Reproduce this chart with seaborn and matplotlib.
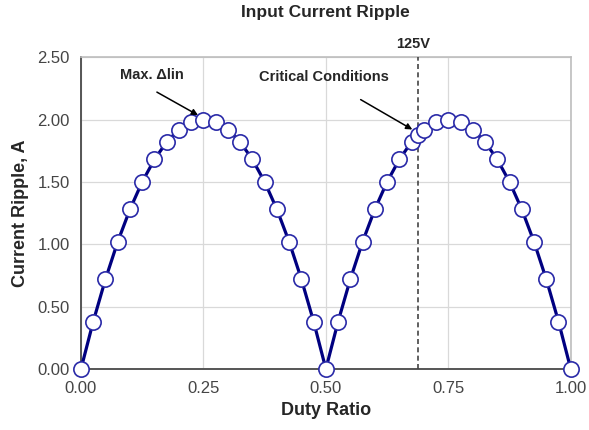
import matplotlib
matplotlib.use("Agg")
import matplotlib.pyplot as plt
import seaborn as sns
import pandas as pd

# Duty ratio sweep (extra point at the 125V critical duty ratio)
duty = [0.000, 0.025, 0.050, 0.075, 0.100, 0.125, 0.150, 0.175, 0.200, 0.225,
        0.250, 0.275, 0.300, 0.325, 0.350, 0.375, 0.400, 0.425, 0.450, 0.475,
        0.500, 0.525, 0.550, 0.575, 0.600, 0.625, 0.650, 0.675, 0.6875, 0.700,
        0.725, 0.750, 0.775, 0.800, 0.825, 0.850, 0.875, 0.900, 0.925, 0.950,
        0.975, 1.000]
ripple = [0.00, 0.38, 0.72, 1.02, 1.28, 1.50, 1.68, 1.82, 1.92, 1.98,
          2.00, 1.98, 1.92, 1.82, 1.68, 1.50, 1.28, 1.02, 0.72, 0.38,
          0.00, 0.38, 0.72, 1.02, 1.28, 1.50, 1.68, 1.82, 1.875, 1.92,
          1.98, 2.00, 1.98, 1.92, 1.82, 1.68, 1.50, 1.28, 1.02, 0.72,
          0.38, 0.00]

x_ticks = [0.00, 0.25, 0.50, 0.75, 1.00]
y_ticks = [0.00, 0.50, 1.00, 1.50, 2.00, 2.50]

critical_duty = 0.6875
max_point = (0.25, 2.00)
critical_point = (0.6875, 1.875)

df = pd.DataFrame({"Duty Ratio": duty, "Current Ripple, A": ripple})

sns.set_style("white")
plt.rcParams["font.family"] = ["Liberation Sans", "DejaVu Sans"]

fig = plt.figure(figsize=(5.89, 4.30), dpi=100)
ax = fig.add_axes([0.1375, 0.142, 0.8315, 0.725])

sns.lineplot(data=df, x="Duty Ratio", y="Current Ripple, A", ax=ax,
             estimator=None, sort=False, color="#000080", linewidth=2.3,
             marker="o", markersize=11, markerfacecolor="white",
             markeredgecolor="#2a2aa8", markeredgewidth=1.2, clip_on=False,
             zorder=5)

ax.set_xlim(0, 1)
ax.set_ylim(0, 2.5)
ax.set_xticks(x_ticks)
ax.set_yticks(y_ticks)
ax.set_xticklabels([f"{v:.2f}" for v in x_ticks])
ax.set_yticklabels([f"{v:.2f}" for v in y_ticks])
ax.tick_params(axis="both", labelsize=12, labelcolor="#454545", colors="#808080",
               length=4, width=1, direction="out")
ax.tick_params(axis="x", pad=5)
ax.tick_params(axis="y", pad=4)

ax.grid(True, color="#d9d9d9", linewidth=0.9)
ax.set_axisbelow(True)
for side in ("left", "bottom"):
    ax.spines[side].set_color("#555555")
    ax.spines[side].set_linewidth(1.4)
for side in ("top", "right"):
    ax.spines[side].set_color("#bdbdbd")
    ax.spines[side].set_linewidth(1.2)

ax.set_xlabel("Duty Ratio", fontsize=13, fontweight="bold", labelpad=4)
ax.set_ylabel("Current Ripple, A", fontsize=13, fontweight="bold", labelpad=6)
ax.set_title("Input Current Ripple", fontsize=12.5, fontweight="bold", pad=29)

# 125V operating point
ax.axvline(critical_duty, color="#444444", linewidth=1.2, linestyle=(0, (3, 2)),
           zorder=3)
ax.annotate("125V", xy=(critical_duty, 1.0), xycoords=("data", "axes fraction"),
            xytext=(-3, 9.5), textcoords="offset points", ha="center", va="center",
            fontsize=10.5, fontweight="bold")

# Callouts
ax.text(0.144, 2.356, "Max. \u0394lin", ha="center", va="center",
        fontsize=10.5, fontweight="bold")
ax.annotate("", xy=(max_point[0] - 0.011, max_point[1] + 0.035),
            xytext=(0.155, 2.22),
            arrowprops=dict(arrowstyle="-|>", color="black", lw=1.1,
                            mutation_scale=9, shrinkA=0, shrinkB=0), zorder=6)
ax.text(0.497, 2.34, "Critical Conditions", ha="center", va="center",
        fontsize=10.5, fontweight="bold")
ax.annotate("", xy=(critical_point[0] - 0.011, critical_point[1] + 0.045),
            xytext=(0.571, 2.16),
            arrowprops=dict(arrowstyle="-|>", color="black", lw=1.1,
                            mutation_scale=9, shrinkA=0, shrinkB=0), zorder=6)

fig.savefig("out.png", dpi=100)
